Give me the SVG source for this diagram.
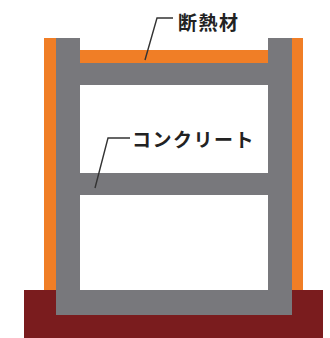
<svg xmlns="http://www.w3.org/2000/svg" width="330" height="338" viewBox="0 0 330 338">
  <style>
    .concrete { fill: #78787c; }
    .insul { fill: #f07e26; }
    .base { fill: #7a1c1e; }
    .lbl { font-family: "Noto Sans CJK JP", "Noto Sans", sans-serif; font-weight: bold; font-size: 19px; fill: #222; letter-spacing: 1.5px; }
    .leader { fill: none; stroke: #333; stroke-width: 1.4; }
  </style>
  <rect width="330" height="338" fill="#ffffff"/>

  <!-- foundation -->
  <g id="foundation">
    <rect class="base" x="24" y="290" width="299" height="48"/>
  </g>

  <!-- exterior insulation on the side walls -->
  <g id="wall-insulation">
    <rect class="insul" x="44" y="38" width="12" height="252"/>
    <rect class="insul" x="292" y="38" width="11" height="252"/>
  </g>

  <!-- concrete frame -->
  <g id="concrete-frame">
    <rect class="concrete" x="56" y="38" width="24" height="277"/>
    <rect class="concrete" x="268" y="38" width="24" height="277"/>
    <rect class="concrete" x="56" y="63" width="236" height="22"/>
    <rect class="concrete" x="56" y="173" width="236" height="22"/>
    <rect class="concrete" x="56" y="290" width="236" height="25"/>
  </g>

  <!-- roof insulation -->
  <g id="roof-insulation">
    <rect class="insul" x="80" y="50" width="188" height="13"/>
  </g>

  <!-- leader lines -->
  <g id="connectors">
    <polyline class="leader" points="173,18 157,18 145,60"/>
    <polyline class="leader" points="130,138 108,138 95,188"/>
  </g>

  <g id="label-insulation">
    <text class="lbl" x="178" y="30">断熱材</text>
  </g>
  <g id="label-concrete">
    <text class="lbl" x="132" y="147">コンクリート</text>
  </g>
</svg>
